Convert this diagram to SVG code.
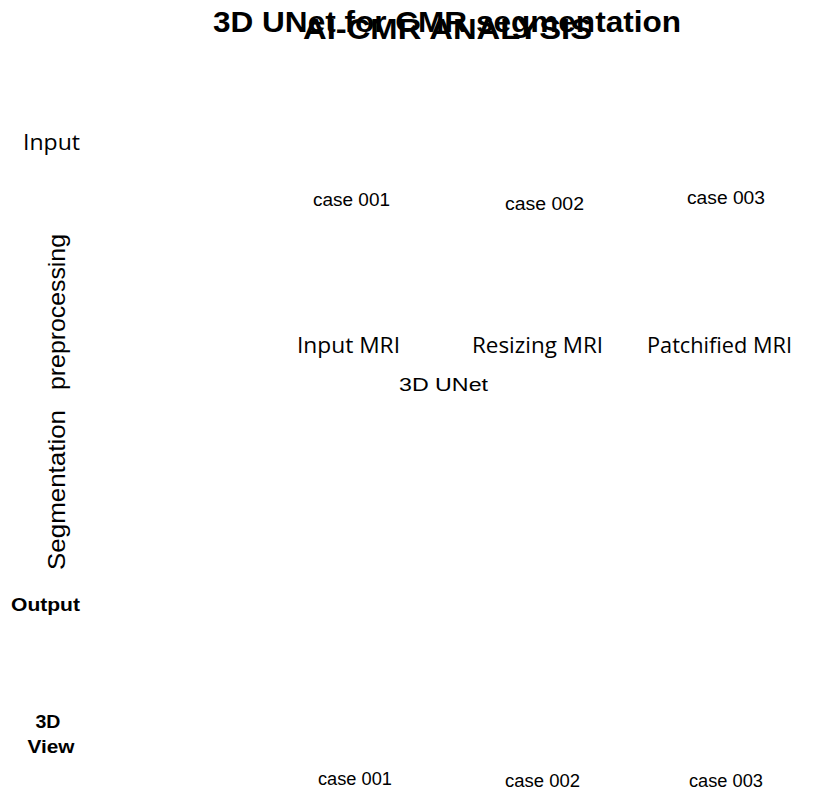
<svg xmlns="http://www.w3.org/2000/svg" width="817" height="792" viewBox="0 0 817 792">
  <style>
    .title { font-family: "Liberation Sans", Arial, sans-serif; font-weight: bold; font-size: 30px; fill: #000; }
    .case { font-family: "Liberation Sans", Arial, sans-serif; font-size: 17.5px; fill: #000; }
    .stage { font-family: "Open Sans", "Liberation Sans", sans-serif; font-size: 22px; fill: #000; }
    .side { font-family: "Liberation Sans", Arial, sans-serif; font-size: 24px; fill: #000; }
    .tag { font-family: "Liberation Sans", Arial, sans-serif; font-weight: bold; font-size: 19px; fill: #000; }
    .net { font-family: "Liberation Sans", Arial, sans-serif; font-size: 18px; fill: #000; }
  </style>
  <rect width="817" height="792" fill="#fff"/>

  <!-- headings (two titles printed over each other) -->
  <g id="titles">
    <text class="title" x="213" y="32" textLength="468" lengthAdjust="spacingAndGlyphs">3D UNet for CMR segmentation</text>
    <text class="title" x="303" y="39" textLength="289" lengthAdjust="spacingAndGlyphs">AI-CMR ANALYSIS</text>
  </g>

  <!-- row labels on the left -->
  <g id="label-input">
    <text class="stage" x="23" y="150" font-size="24" textLength="57" lengthAdjust="spacingAndGlyphs">Input</text>
  </g>
  <g id="label-preprocessing">
    <text class="side" transform="translate(65,312) rotate(-90)" text-anchor="middle" textLength="156" lengthAdjust="spacingAndGlyphs">preprocessing</text>
  </g>
  <g id="label-segmentation">
    <text class="side" transform="translate(65,490) rotate(-90)" text-anchor="middle" textLength="160" lengthAdjust="spacingAndGlyphs">Segmentation</text>
  </g>
  <g id="label-output">
    <text class="tag" x="11" y="611" textLength="69" lengthAdjust="spacingAndGlyphs">Output</text>
  </g>
  <g id="label-3dview">
    <text class="tag" x="48" y="728" text-anchor="middle" textLength="25" lengthAdjust="spacingAndGlyphs">3D</text>
    <text class="tag" x="51" y="753" text-anchor="middle" textLength="47" lengthAdjust="spacingAndGlyphs">View</text>
  </g>

  <!-- input cases -->
  <g id="input-cases">
    <text class="case" x="313" y="206" textLength="77" lengthAdjust="spacingAndGlyphs">case 001</text>
    <text class="case" x="505" y="210" textLength="79" lengthAdjust="spacingAndGlyphs">case 002</text>
    <text class="case" x="687" y="204" textLength="78" lengthAdjust="spacingAndGlyphs">case 003</text>
  </g>

  <!-- preprocessing stages -->
  <g id="stage-input-mri">
    <text class="stage" x="297" y="353" textLength="103" lengthAdjust="spacingAndGlyphs">Input MRI</text>
  </g>
  <g id="stage-resizing-mri">
    <text class="stage" x="472" y="353" textLength="131" lengthAdjust="spacingAndGlyphs">Resizing MRI</text>
  </g>
  <g id="stage-patchified-mri">
    <text class="stage" x="647" y="353" textLength="145" lengthAdjust="spacingAndGlyphs">Patchified MRI</text>
  </g>

  <!-- segmentation model -->
  <g id="model-3dunet">
    <text class="net" x="399" y="391" textLength="89" lengthAdjust="spacingAndGlyphs">3D UNet</text>
  </g>

  <!-- output cases -->
  <g id="output-cases">
    <text class="case" x="318" y="785" textLength="74" lengthAdjust="spacingAndGlyphs">case 001</text>
    <text class="case" x="505" y="787" textLength="75" lengthAdjust="spacingAndGlyphs">case 002</text>
    <text class="case" x="689" y="787" textLength="74" lengthAdjust="spacingAndGlyphs">case 003</text>
  </g>

  <g id="connectors"/>
</svg>
